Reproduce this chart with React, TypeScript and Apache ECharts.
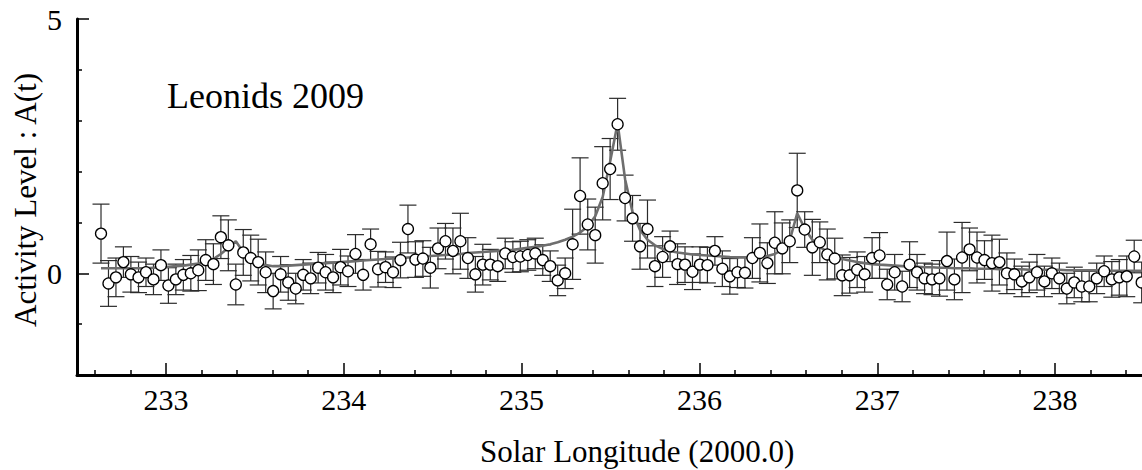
import React, { useEffect, useRef } from "react";
import * as echarts from "echarts";

// Solar longitude (J2000.0) of each hourly bin
const solarLongitude = [
  232.635, 232.677, 232.719, 232.761, 232.803, 232.846, 232.888, 232.93, 232.972, 233.014,
  233.056, 233.098, 233.14, 233.182, 233.224, 233.267, 233.309, 233.351, 233.393, 233.435,
  233.477, 233.519, 233.561, 233.603, 233.645, 233.688, 233.73, 233.772, 233.814, 233.856,
  233.898, 233.94, 233.982, 234.024, 234.066, 234.109, 234.151, 234.193, 234.235, 234.277,
  234.319, 234.361, 234.403, 234.445, 234.487, 234.53, 234.572, 234.614, 234.656, 234.698,
  234.74, 234.782, 234.824, 234.866, 234.908, 234.951, 234.993, 235.035, 235.077, 235.119,
  235.161, 235.203, 235.245, 235.287, 235.329, 235.372, 235.414, 235.456, 235.498, 235.54,
  235.582, 235.624, 235.666, 235.708, 235.75, 235.793, 235.835, 235.877, 235.919, 235.961,
  236.003, 236.045, 236.087, 236.129, 236.171, 236.214, 236.256, 236.298, 236.34, 236.382,
  236.424, 236.466, 236.508, 236.55, 236.592, 236.635, 236.677, 236.719, 236.761, 236.803,
  236.845, 236.887, 236.929, 236.971, 237.013, 237.056, 237.098, 237.14, 237.182, 237.224,
  237.266, 237.308, 237.35, 237.392, 237.434, 237.477, 237.519, 237.561, 237.603, 237.645,
  237.687, 237.729, 237.771, 237.813, 237.855, 237.898, 237.94, 237.982, 238.024, 238.066,
  238.108, 238.15, 238.192, 238.234, 238.276, 238.319, 238.361, 238.403, 238.445, 238.487,
];

// Observed activity level A(t)
const activity = [
  0.78, -0.2, -0.08, 0.22, -0.02, -0.08, 0.02, -0.12, 0.16, -0.24,
  -0.12, -0.03, 0.0, 0.06, 0.26, 0.18, 0.71, 0.55, -0.22, 0.41,
  0.3, 0.22, 0.02, -0.35, -0.02, -0.18, -0.3, -0.03, -0.1, 0.11,
  0.02, -0.08, 0.12, 0.04, 0.38, -0.03, 0.57, 0.08, 0.12, 0.02,
  0.26, 0.87, 0.27, 0.29, 0.11, 0.49, 0.63, 0.44, 0.63, 0.3,
  -0.02, 0.17, 0.17, 0.14, 0.39, 0.32, 0.33, 0.36, 0.39, 0.26,
  0.14, -0.14, 0.0, 0.57, 1.52, 0.96, 0.75, 1.77, 2.05, 2.93,
  1.48, 1.08, 0.53, 0.87, 0.14, 0.32, 0.53, 0.18, 0.17, 0.03,
  0.17, 0.16, 0.44, 0.09, -0.06, 0.02, 0.01, 0.3, 0.4, 0.2,
  0.6, 0.49, 0.63, 1.63, 0.86, 0.51, 0.61, 0.37, 0.29, -0.04,
  -0.04, 0.07, -0.02, 0.3, 0.35, -0.22, 0.02, -0.26, 0.17, 0.02,
  -0.1, -0.12, -0.1, 0.24, -0.12, 0.31, 0.47, 0.31, 0.26, 0.2,
  0.22, 0.0, -0.02, -0.16, -0.08, 0.02, -0.16, 0.0, -0.1, -0.3,
  -0.18, -0.26, -0.26, -0.1, 0.04, -0.12, -0.08, -0.06, 0.33, -0.18,
];

// Half-length of each error bar
const errors = [
  0.58, 0.45, 0.38, 0.3, 0.35, 0.3, 0.28, 0.3, 0.3, 0.35,
  0.3, 0.3, 0.35, 0.4, 0.4, 0.4, 0.42, 0.5, 0.4, 0.45,
  0.45, 0.45, 0.4, 0.35, 0.35, 0.35, 0.3, 0.3, 0.3, 0.3,
  0.35, 0.3, 0.35, 0.3, 0.38, 0.3, 0.3, 0.35, 0.3, 0.3,
  0.35, 0.47, 0.35, 0.35, 0.4, 0.4, 0.35, 0.45, 0.55, 0.4,
  0.35, 0.4, 0.3, 0.3, 0.3, 0.3, 0.3, 0.3, 0.3, 0.3,
  0.3, 0.3, 0.3, 0.69, 0.75, 0.5, 0.55, 0.72, 0.6, 0.51,
  0.45, 0.45, 0.45, 0.57, 0.4, 0.4, 0.3, 0.4, 0.35, 0.35,
  0.35, 0.35, 0.28, 0.35, 0.35, 0.3, 0.3, 0.4, 0.57, 0.4,
  0.61, 0.5, 0.42, 0.73, 0.35, 0.55, 0.4, 0.5, 0.4, 0.4,
  0.35, 0.35, 0.35, 0.4, 0.45, 0.3, 0.35, 0.3, 0.45, 0.35,
  0.3, 0.3, 0.35, 0.57, 0.4, 0.69, 0.42, 0.5, 0.38, 0.55,
  0.45, 0.4, 0.3, 0.3, 0.3, 0.35, 0.3, 0.3, 0.3, 0.3,
  0.3, 0.3, 0.3, 0.3, 0.3, 0.35, 0.35, 0.4, 0.32, 0.4,
];

// Fitted model curve
const fitCurve = [
  0.1, 0.1, 0.1, 0.1, 0.1, 0.1, 0.1, 0.11, 0.12, 0.13,
  0.14, 0.15, 0.17, 0.19, 0.23, 0.28, 0.38, 0.5, 0.63, 0.42,
  0.28, 0.2, 0.16, 0.14, 0.14, 0.15, 0.16, 0.17, 0.18, 0.19,
  0.2, 0.21, 0.22, 0.23, 0.24, 0.25, 0.26, 0.27, 0.28, 0.29,
  0.3, 0.31, 0.32, 0.33, 0.34, 0.35, 0.36, 0.37, 0.38, 0.4,
  0.41, 0.42, 0.43, 0.44, 0.45, 0.46, 0.48, 0.5, 0.52, 0.54,
  0.57, 0.61, 0.66, 0.72, 0.8, 0.92, 1.12, 1.5, 2.2, 2.95,
  1.85, 1.2, 0.85, 0.66, 0.55, 0.48, 0.44, 0.41, 0.39, 0.37,
  0.36, 0.35, 0.34, 0.33, 0.32, 0.31, 0.31, 0.31, 0.32, 0.34,
  0.38, 0.46, 0.65, 1.18, 0.88, 0.66, 0.52, 0.42, 0.35, 0.28,
  0.25, 0.22, 0.2, 0.18, 0.17, 0.16, 0.15, 0.14, 0.13, 0.13,
  0.12, 0.12, 0.11, 0.11, 0.1, 0.1, 0.1, 0.09, 0.09, 0.09,
  0.08, 0.08, 0.08, 0.08, 0.07, 0.07, 0.07, 0.07, 0.07, 0.06,
  0.06, 0.06, 0.06, 0.06, 0.05, 0.05, 0.05, 0.05, 0.05, 0.05,
];

const xMajorTicks = [233, 234, 235, 236, 237, 238];
const yMajorTicks = [0, 5];
const yMinorTicks = [-1, 1, 2, 3, 4];

const FONT = "Liberation Serif";

export default function App() {
  const ref = useRef<HTMLDivElement>(null);

  useEffect(() => {
    if (!ref.current) return;
    const chart = echarts.init(ref.current, null, { renderer: "svg" });

    const xMinorTicks: number[] = [];
    for (let k = 2326; k <= 2384; k += 2) {
      if (k % 10 !== 0) xMinorTicks.push(k / 10);
    }

    const errData = solarLongitude.map((x, i) => [x, activity[i] - errors[i], activity[i] + errors[i]]);
    const pointData = solarLongitude.map((x, i) => [x, activity[i]]);
    const fitData = solarLongitude.map((x, i) => [x, fitCurve[i]]);

    const xMin = 232.5;
    const xMax = 238.5;
    const yMin = -2;
    const yMax = 5;

    const option: any = {
      animation: false,
      backgroundColor: "#ffffff",
      textStyle: { fontFamily: FONT },
      grid: {
        left: 77,
        top: 19,
        width: 1067,
        height: 356,
        containLabel: false,
        outerBoundsMode: "none",
      },
      xAxis: [
        {
          type: "value",
          min: xMin,
          max: xMax,
          position: "bottom",
          axisLine: { show: true, onZero: false, lineStyle: { color: "#000", width: 3 } },
          axisTick: { show: true, inside: true, length: 12, customValues: xMajorTicks, lineStyle: { color: "#000", width: 1.5 } },
          axisLabel: { show: true, customValues: xMajorTicks, margin: 9, color: "#000", fontSize: 30, fontFamily: FONT },
          splitLine: { show: false },
        },
        {
          type: "value",
          min: xMin,
          max: xMax,
          position: "bottom",
          axisLine: { show: false, onZero: false },
          axisTick: { show: true, inside: true, length: 5, customValues: xMinorTicks, lineStyle: { color: "#000", width: 1.5 } },
          axisLabel: { show: false },
          splitLine: { show: false },
        },
      ],
      yAxis: [
        {
          type: "value",
          min: yMin,
          max: yMax,
          position: "left",
          axisLine: { show: true, onZero: false, lineStyle: { color: "#000", width: 3 } },
          axisTick: { show: true, inside: true, length: 12, customValues: yMajorTicks, lineStyle: { color: "#000", width: 1.5 } },
          axisLabel: { show: true, customValues: yMajorTicks, margin: 15, color: "#000", fontSize: 30, fontFamily: FONT },
          splitLine: { show: false },
        },
        {
          type: "value",
          min: yMin,
          max: yMax,
          position: "left",
          axisLine: { show: false, onZero: false },
          axisTick: { show: true, inside: true, length: 5, customValues: yMinorTicks, lineStyle: { color: "#000", width: 1.5 } },
          axisLabel: { show: false },
          splitLine: { show: false },
        },
      ],
      graphic: [
        {
          type: "text",
          x: 167,
          y: 96,
          style: { text: "Leonids 2009", fontSize: 36, fontFamily: FONT, fill: "#000", align: "left", verticalAlign: "middle" },
        },
        {
          type: "text",
          x: 480,
          y: 451,
          style: { text: "Solar Longitude (2000.0)", fontSize: 31, fontFamily: FONT, fill: "#000", align: "left", verticalAlign: "middle" },
        },
        {
          type: "text",
          x: 25,
          y: 200,
          rotation: Math.PI / 2,
          style: { text: "Activity Level : A(t)", fontSize: 31, fontFamily: FONT, fill: "#000", align: "center", verticalAlign: "middle" },
        },
      ],
      series: [
        {
          type: "custom",
          xAxisIndex: 0,
          yAxisIndex: 0,
          data: errData,
          encode: { x: 0, y: [1, 2] },
          z: 2,
          renderItem: (params: any, api: any) => {
            const x = api.value(0);
            const lo = api.coord([x, api.value(1)]);
            const hi = api.coord([x, api.value(2)]);
            const hw = 8.5;
            const style = { stroke: "#2b2b2b", lineWidth: 1.2, fill: "none" };
            return {
              type: "group",
              children: [
                { type: "line", shape: { x1: lo[0], y1: lo[1], x2: hi[0], y2: hi[1] }, style },
                { type: "line", shape: { x1: hi[0] - hw, y1: hi[1], x2: hi[0] + hw, y2: hi[1] }, style },
                { type: "line", shape: { x1: lo[0] - hw, y1: lo[1], x2: lo[0] + hw, y2: lo[1] }, style },
              ],
            };
          },
        },
        {
          type: "line",
          xAxisIndex: 0,
          yAxisIndex: 0,
          data: fitData,
          showSymbol: false,
          symbol: "none",
          z: 3,
          lineStyle: { color: "#6e6e6e", width: 2.6 },
        },
        {
          type: "scatter",
          xAxisIndex: 0,
          yAxisIndex: 0,
          data: pointData,
          symbol: "circle",
          symbolSize: 11,
          z: 4,
          itemStyle: { color: "#ffffff", borderColor: "#000000", borderWidth: 1.3, opacity: 1 },
        },
      ],
    };

    chart.setOption(option);
    return () => {
      chart.dispose();
    };
  }, []);

  return (
    <div
      ref={ref}
      style={{ position: "absolute", left: 0, top: 0, width: 1142, height: 470, background: "#fff" }}
    />
  );
}
